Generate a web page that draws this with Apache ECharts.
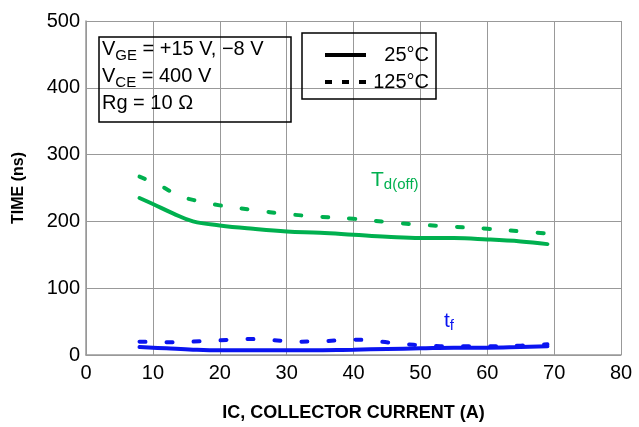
<!DOCTYPE html>
<html>
<head>
<meta charset="utf-8">
<script src="https://cdn.jsdelivr.net/npm/echarts@6/dist/echarts.min.js"></script>
<style>
html, body { margin: 0; padding: 0; background: #fff; }
#chart { width: 639px; height: 427px; }
</style>
</head>
<body>
<div id="chart"></div>
<script>
// x ticks / y ticks
const xTicks = [0, 10, 20, 30, 40, 50, 60, 70, 80];
const yTicks = [0, 100, 200, 300, 400, 500];

// Td(off) curves [Ic (A), time (ns)]
const tdoff25 = [[8, 235], [10, 226], [13, 212], [16, 200], [20, 194], [25, 189], [30, 185], [35, 183], [40, 180], [45, 177], [50, 175], [55, 175], [60, 173], [65, 170], [69, 166]];
const tdoff125 = [[8, 267], [11, 254], [14, 238], [17, 230], [20, 224], [25, 217], [30, 211], [35, 207], [40, 204], [45, 199], [50, 195], [55, 192], [60, 189], [65, 185], [69, 182]];
// tf curves
const tf25 = [[8, 12], [12, 10], [16, 8], [20, 7], [30, 7], [40, 8], [45, 9], [50, 10], [55, 11], [60, 11], [65, 12], [69, 13]];
const tf125 = [[8, 20], [12, 19], [16, 20], [20, 22], [24, 24], [28, 22], [32, 20], [36, 21], [40, 23], [44, 20], [47, 17], [51, 14], [55, 13], [60, 13], [65, 14], [69, 16]];

const green = "#00b04f";
const blue = "#0a14f0";
const font = "Liberation Sans";

let myChart = echarts.init(document.getElementById("chart"));

function curve(name, data, color, dashed) {
  return {
    name: name,
    type: "line",
    smooth: 0.4,
    showSymbol: false,
    symbol: "none",
    data: data,
    lineStyle: { color: color, width: 4, type: dashed ? [6, 21] : "solid", cap: "round" },
    itemStyle: { color: color },
    silent: true
  };
}

let option = {
  animation: false,
  textStyle: { fontFamily: font },
  grid: { left: 86, right: 18, top: 21, bottom: 71 },
  //条件框
  title: {
    left: 99,
    top: 33,
    padding: [3, 28, 9, 3],
    borderColor: "#000",
    borderWidth: 1.5,
    text: "{n|V}{s|GE}{n| = +15 V, \u22128 V}\n{n|V}{s|CE}{n| = 400 V}\n{n|Rg = 10 \u03a9}",
    textStyle: {
      fontWeight: "normal",
      rich: {
        n: { fontFamily: font, fontSize: 20, fontWeight: "normal", color: "#000", lineHeight: 27 },
        s: { fontFamily: font, fontSize: 15, fontWeight: "normal", color: "#000", lineHeight: 27, verticalAlign: "bottom", padding: [7, 0, 0, 0] }
      }
    }
  },
  //图例
  legend: {
    orient: "vertical",
    left: 302,
    top: 33,
    padding: [12, 7, 7, 21],
    itemGap: 7,
    itemWidth: 41,
    itemHeight: 20,
    borderColor: "#000",
    borderWidth: 1.5,
    align: "left",
    itemStyle: { opacity: 0 },
    lineStyle: { width: 4 },
    data: ["25\u00b0C", "125\u00b0C"],
    formatter: name => "{a|" + name + "}",
    textStyle: {
      rich: { a: { fontFamily: font, fontSize: 20, color: "#000", width: 58, align: "right" } }
    }
  },
  xAxis: {
    type: "value",
    min: 0,
    max: 80,
    interval: 10,
    name: "IC, COLLECTOR CURRENT (A)",
    nameLocation: "middle",
    nameGap: 49,
    nameTextStyle: { fontFamily: font, fontSize: 18, fontWeight: "bold", color: "#000" },
    axisLine: { lineStyle: { color: "#999", width: 1.5 } },
    axisTick: { show: false },
    splitLine: { lineStyle: { color: "#999", width: 1 } },
    axisLabel: { fontFamily: font, fontSize: 20, color: "#000", margin: 8,
      formatter: v => xTicks.includes(v) ? String(v) : "" }
  },
  yAxis: {
    type: "value",
    min: 0,
    max: 500,
    interval: 100,
    name: "TIME (ns)",
    nameLocation: "middle",
    nameGap: 59,
    nameTextStyle: { fontFamily: font, fontSize: 16, fontWeight: "bold", color: "#000" },
    axisLine: { show: true, lineStyle: { color: "#999", width: 1.5 } },
    axisTick: { show: false },
    splitLine: { lineStyle: { color: "#999", width: 1 } },
    axisLabel: { fontFamily: font, fontSize: 20, color: "#000", margin: 6,
      formatter: v => yTicks.includes(v) ? String(v) : "" }
  },
  //曲线标注
  graphic: [
    {
      type: "text",
      left: 371,
      top: 170,
      style: {
        text: "{m|T}{s|d(off)}",
        rich: {
          m: { fontFamily: font, fontSize: 21, fill: green },
          s: { fontFamily: font, fontSize: 15, fill: green, padding: [9, 0, 0, 0] }
        }
      }
    },
    {
      type: "text",
      left: 444,
      top: 311,
      style: {
        text: "{m|t}{s|f}",
        rich: {
          m: { fontFamily: font, fontSize: 21, fill: blue },
          s: { fontFamily: font, fontSize: 15, fill: blue, padding: [9, 0, 0, 0] }
        }
      }
    }
  ],
  series: [
    curve("Td(off) 25", tdoff25, green, false),
    curve("Td(off) 125", tdoff125, green, true),
    curve("tf 25", tf25, blue, false),
    curve("tf 125", tf125, blue, true),
    //图例用
    { name: "25\u00b0C", type: "line", data: [], symbol: "none",
      lineStyle: { color: "#000", width: 4 }, itemStyle: { color: "#000" } },
    { name: "125\u00b0C", type: "line", data: [], symbol: "none",
      lineStyle: { color: "#000", width: 4, type: [7, 10] }, itemStyle: { color: "#000" } }
  ]
};

myChart.setOption(option);
</script>
</body>
</html>
